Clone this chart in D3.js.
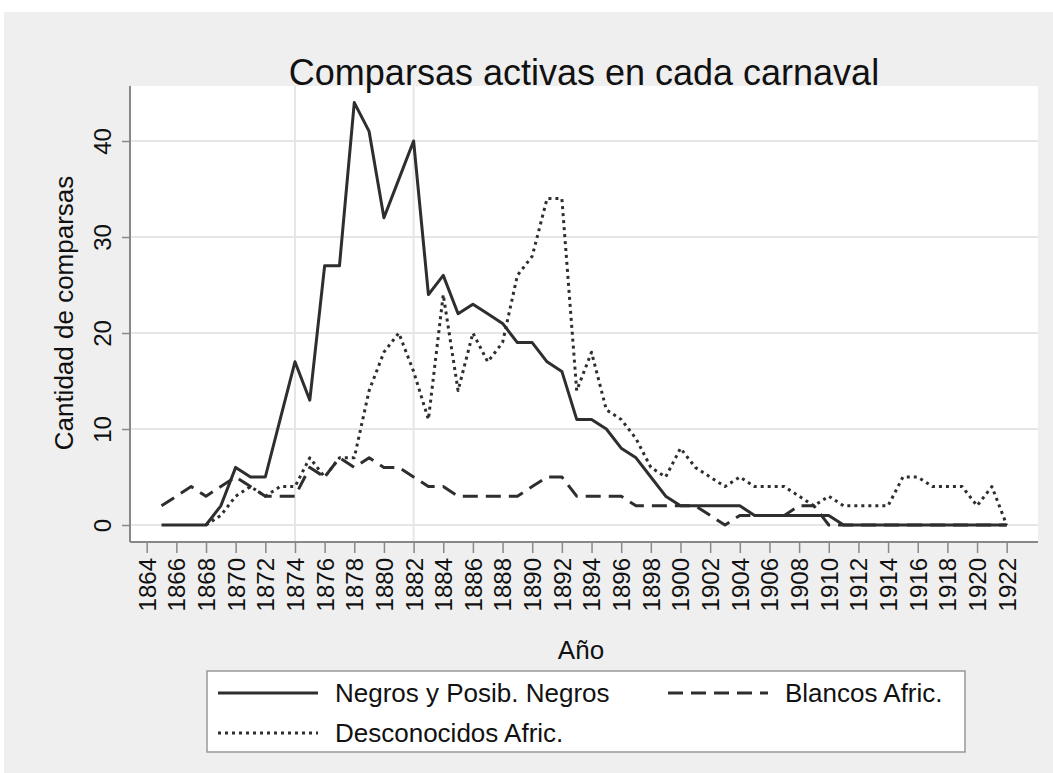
<!DOCTYPE html>
<html>
<head>
<meta charset="utf-8">
<script src="https://cdn.jsdelivr.net/npm/d3@7"></script>
<style>
  body { margin: 0; background: #fff; }
  svg { display: block; font-family: "Liberation Sans", Arial, sans-serif; }
</style>
</head>
<body>
<script>
// Data: active comparsas per carnival year
const years = [1865, 1866, 1867, 1868, 1869, 1870, 1871, 1872, 1873, 1874,
  1875, 1876, 1877, 1878, 1879, 1880, 1881, 1882, 1883, 1884,
  1885, 1886, 1887, 1888, 1889, 1890, 1891, 1892, 1893, 1894,
  1895, 1896, 1897, 1898, 1899, 1900, 1901, 1902, 1903, 1904,
  1905, 1906, 1907, 1908, 1909, 1910, 1911, 1912, 1913, 1914,
  1915, 1916, 1917, 1918, 1919, 1920, 1921, 1922];

const negros = [0, 0, 0, 0, 2, 6, 5, 5, 11, 17,
  13, 27, 27, 44, 41, 32, 36, 40, 24, 26,
  22, 23, 22, 21, 19, 19, 17, 16, 11, 11,
  10, 8, 7, 5, 3, 2, 2, 2, 2, 2,
  1, 1, 1, 1, 1, 1, 0, 0, 0, 0,
  0, 0, 0, 0, 0, 0, 0, 0];

const blancos = [2, 3, 4, 3, 4, 5, 4, 3, 3, 3,
  6, 5, 7, 6, 7, 6, 6, 5, 4, 4,
  3, 3, 3, 3, 3, 4, 5, 5, 3, 3,
  3, 3, 2, 2, 2, 2, 2, 1, 0, 1,
  1, 1, 1, 2, 2, 0, 0, 0, 0, 0,
  0, 0, 0, 0, 0, 0, 0, 0];

const desconocidos = [null, null, null, 0, 1, 3, 4, 3, 4, 4,
  7, 5, 7, 7, 14, 18, 20, 16, 11, 24,
  14, 20, 17, 19, 26, 28, 34, 34, 14, 18,
  12, 11, 9, 6, 5, 8, 6, 5, 4, 5,
  4, 4, 4, 3, 2, 3, 2, 2, 2, 2,
  5, 5, 4, 4, 4, 2, 4, 0];

const xTicks = [1864, 1866, 1868, 1870, 1872, 1874, 1876, 1878, 1880, 1882,
  1884, 1886, 1888, 1890, 1892, 1894, 1896, 1898, 1900, 1902,
  1904, 1906, 1908, 1910, 1912, 1914, 1916, 1918, 1920, 1922];
const yTicks = [0, 10, 20, 30, 40];
const refYears = [1874, 1882];

const seriesNames = ["Negros y Posib. Negros", "Blancos Afric.", "Desconocidos Afric."];

const W = 1053, H = 773;
const plot = { left: 130, right: 1038, top: 86, bottom: 542 };
const ink = "#2e2e2e";

const svg = d3.select("body").append("svg")
  .attr("width", W)
  .attr("height", H);

// outer grey panel
svg.append("rect")
  .attr("x", 4).attr("y", 12)
  .attr("width", W - 4).attr("height", H - 12)
  .attr("fill", "#efefef");

// plot region
svg.append("rect")
  .attr("x", plot.left).attr("y", plot.top)
  .attr("width", plot.right - plot.left).attr("height", plot.bottom - plot.top)
  .attr("fill", "#fff");

const x = d3.scaleLinear().domain([1864, 1922]).range([146.7, 1006.7]);
const y = d3.scaleLinear().domain([0, 40]).range([525, 141]);

// grid lines
svg.append("g").selectAll("line")
  .data(yTicks)
  .join("line")
  .attr("x1", plot.left).attr("x2", plot.right)
  .attr("y1", d => y(d)).attr("y2", d => y(d))
  .attr("stroke", "#e6e6e6")
  .attr("stroke-width", 2);

svg.append("g").selectAll("line")
  .data(refYears)
  .join("line")
  .attr("x1", d => x(d)).attr("x2", d => x(d))
  .attr("y1", plot.top).attr("y2", plot.bottom)
  .attr("stroke", "#e6e6e6")
  .attr("stroke-width", 2);

// series
const rows = years.map((yr, i) => ({ year: yr, n: negros[i], b: blancos[i], d: desconocidos[i] }));

const line = key => d3.line()
  .defined(d => d[key] != null)
  .x(d => x(d.year))
  .y(d => y(d[key]));

const styles = [
  { key: "n", dash: null },
  { key: "b", dash: "15,8" },
  { key: "d", dash: "3,4" }
];

svg.append("g").selectAll("path")
  .data(styles)
  .join("path")
  .attr("d", s => line(s.key)(rows))
  .attr("fill", "none")
  .attr("stroke", ink)
  .attr("stroke-width", 3)
  .attr("stroke-linejoin", "round")
  .attr("stroke-dasharray", s => s.dash);

// axes
const xAxis = svg.append("g")
  .attr("transform", `translate(0,${plot.bottom})`)
  .call(d3.axisBottom(x).tickValues(xTicks).tickSize(11).tickFormat(d3.format("d")));
xAxis.select(".domain").remove();
xAxis.selectAll(".tick line").attr("stroke", "#888").attr("stroke-width", 1.5);
xAxis.selectAll("text")
  .attr("transform", "rotate(-90)")
  .attr("x", -16).attr("y", 0).attr("dy", "0.35em")
  .style("text-anchor", "end")
  .attr("fill", "#111")
  .style("font-size", "24px");

const yAxis = svg.append("g")
  .attr("transform", `translate(${plot.left},0)`)
  .call(d3.axisLeft(y).tickValues(yTicks).tickSize(8));
yAxis.select(".domain").remove();
yAxis.selectAll(".tick line").attr("stroke", "#888").attr("stroke-width", 1.5);
yAxis.selectAll("text")
  .attr("transform", "rotate(-90)")
  .attr("x", 0).attr("y", -19).attr("dy", 0)
  .style("text-anchor", "middle")
  .attr("fill", "#111")
  .style("font-size", "24px");

// axis lines over full plot region
svg.append("line")
  .attr("x1", plot.left).attr("x2", plot.right)
  .attr("y1", plot.bottom).attr("y2", plot.bottom)
  .attr("stroke", "#888").attr("stroke-width", 2);
svg.append("line")
  .attr("x1", plot.left).attr("x2", plot.left)
  .attr("y1", plot.top).attr("y2", plot.bottom)
  .attr("stroke", "#888").attr("stroke-width", 2);

// titles
svg.append("text")
  .attr("x", (plot.left + plot.right) / 2).attr("y", 85)
  .attr("text-anchor", "middle")
  .attr("fill", "#111")
  .style("font-size", "36px")
  .text("Comparsas activas en cada carnaval");

svg.append("text")
  .attr("transform", "translate(73,313) rotate(-90)")
  .attr("text-anchor", "middle")
  .attr("fill", "#111")
  .style("font-size", "26px")
  .text("Cantidad de comparsas");

svg.append("text")
  .attr("x", 581).attr("y", 659)
  .attr("text-anchor", "middle")
  .attr("fill", "#111")
  .style("font-size", "26px")
  .text("Año");

// legend
const legend = svg.append("g");
legend.append("rect")
  .attr("x", 207).attr("y", 671)
  .attr("width", 758).attr("height", 81)
  .attr("fill", "#fff")
  .attr("stroke", "#999")
  .attr("stroke-width", 1.5);

const legendPos = [
  { x: 218, y: 693 },
  { x: 668, y: 693 },
  { x: 218, y: 733 }
];

const items = legend.selectAll("g.item")
  .data(styles)
  .join("g")
  .attr("class", "item")
  .attr("transform", (s, i) => `translate(${legendPos[i].x},${legendPos[i].y})`);

items.append("line")
  .attr("x1", 0).attr("x2", 100)
  .attr("stroke", ink)
  .attr("stroke-width", 3)
  .attr("stroke-dasharray", s => s.dash);

items.append("text")
  .attr("x", 117).attr("dy", "0.35em")
  .attr("fill", "#111")
  .style("font-size", "26px")
  .text((s, i) => seriesNames[i]);
</script>
</body>
</html>
